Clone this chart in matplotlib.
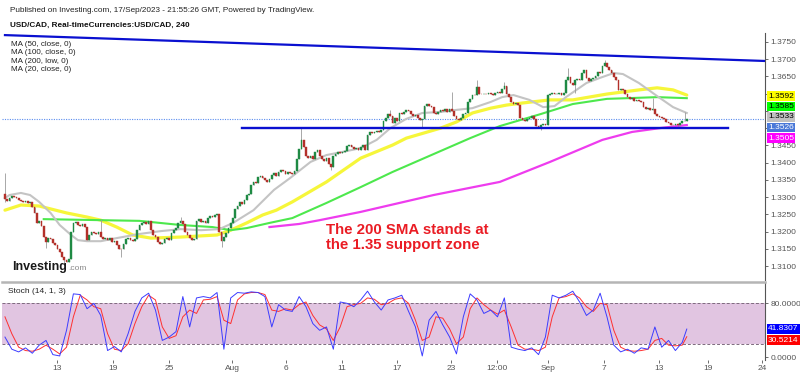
import numpy as np
import matplotlib
matplotlib.use('Agg')
import matplotlib.pyplot as plt

plt.rcParams['font.family'] = ['Liberation Sans', 'DejaVu Sans']

# USD/CAD 4h closes, one trading day per row (6 candles)
first_open = 1.3310
closes = [
    1.3295, 1.3290, 1.3298, 1.3302, 1.3300, 1.3296,
    1.3292, 1.3288, 1.3285, 1.3290, 1.3282, 1.3286,
    1.3270, 1.3255, 1.3225, 1.3230, 1.3215, 1.3185,
    1.3170, 1.3180, 1.3178, 1.3168, 1.3160, 1.3150,
    1.3140, 1.3125, 1.3118, 1.3112, 1.3120, 1.3200,
    1.3225, 1.3228, 1.3220, 1.3215, 1.3222, 1.3212,
    1.3175, 1.3190, 1.3198, 1.3195, 1.3192, 1.3200,
    1.3185, 1.3178, 1.3180, 1.3175, 1.3182, 1.3170,
    1.3172, 1.3160, 1.3150, 1.3148, 1.3165, 1.3178,
    1.3180, 1.3175, 1.3172, 1.3178, 1.3205, 1.3220,
    1.3225, 1.3228, 1.3222, 1.3230, 1.3205, 1.3190,
    1.3185, 1.3170, 1.3165, 1.3168, 1.3178, 1.3180,
    1.3175, 1.3195, 1.3205, 1.3210, 1.3225, 1.3230,
    1.3222, 1.3200, 1.3190, 1.3180, 1.3175, 1.3178,
    1.3230, 1.3235, 1.3228, 1.3232, 1.3225, 1.3240,
    1.3245, 1.3242, 1.3248, 1.3252, 1.3200, 1.3172,
    1.3185, 1.3195, 1.3210, 1.3225, 1.3240, 1.3265,
    1.3275, 1.3285, 1.3280, 1.3292, 1.3305, 1.3310,
    1.3335, 1.3345, 1.3340, 1.3358, 1.3362, 1.3355,
    1.3350, 1.3345, 1.3352, 1.3365, 1.3370, 1.3362,
    1.3372, 1.3378, 1.3375, 1.3368, 1.3372, 1.3370,
    1.3368, 1.3375, 1.3410, 1.3440, 1.3465, 1.3445,
    1.3420, 1.3412, 1.3418, 1.3410, 1.3432, 1.3438,
    1.3420, 1.3410, 1.3405, 1.3412, 1.3395, 1.3388,
    1.3418, 1.3425, 1.3430, 1.3428, 1.3432, 1.3435,
    1.3448, 1.3452, 1.3445, 1.3440, 1.3442, 1.3438,
    1.3445, 1.3450, 1.3438, 1.3480, 1.3488, 1.3485,
    1.3490, 1.3492, 1.3488, 1.3495, 1.3520, 1.3530,
    1.3540, 1.3535, 1.3515, 1.3530, 1.3522, 1.3545,
    1.3542, 1.3548, 1.3552, 1.3550, 1.3540, 1.3535,
    1.3538, 1.3530, 1.3525, 1.3528, 1.3565, 1.3570,
    1.3565, 1.3560, 1.3545, 1.3540, 1.3548, 1.3552,
    1.3550, 1.3555, 1.3548, 1.3556, 1.3550, 1.3535,
    1.3528, 1.3525, 1.3530, 1.3540, 1.3545, 1.3575,
    1.3585, 1.3597, 1.3595, 1.3620, 1.3600, 1.3598,
    1.3600, 1.3598, 1.3602, 1.3600, 1.3596, 1.3603,
    1.3605, 1.3602, 1.3615, 1.3622, 1.3600, 1.3590,
    1.3575, 1.3570, 1.3572, 1.3568, 1.3530, 1.3525,
    1.3522, 1.3528, 1.3530, 1.3535, 1.3528, 1.3505,
    1.3500, 1.3508, 1.3512, 1.3510, 1.3595, 1.3600,
    1.3603, 1.3598, 1.3600, 1.3602, 1.3597, 1.3601,
    1.3640, 1.3648, 1.3630, 1.3625, 1.3640, 1.3642,
    1.3640, 1.3660, 1.3668, 1.3645, 1.3638, 1.3642,
    1.3645, 1.3650, 1.3662, 1.3660, 1.3680, 1.3688,
    1.3678, 1.3670, 1.3660, 1.3648, 1.3640, 1.3610,
    1.3615, 1.3612, 1.3600, 1.3590, 1.3585, 1.3588,
    1.3580, 1.3582, 1.3578, 1.3575, 1.3560, 1.3555,
    1.3558, 1.3552, 1.3555, 1.3540, 1.3535, 1.3532,
    1.3530, 1.3528, 1.3518, 1.3515, 1.3510, 1.3508,
    1.3512, 1.3510, 1.3515, 1.3520, 1.3522, 1.3526,
]

# notable wicks (candle index, high, low); nan = body edge
wick_idx = [0, 18, 26, 42, 51, 77, 95, 130, 143, 169, 183, 196, 207, 219, 235, 247, 250, 263, 284, 295, 298]
wick_high = [1.3371, np.nan, np.nan, 1.3235, np.nan, 1.3243, np.nan, 1.3500, np.nan, 1.3553, np.nan,
             1.3606, 1.3640, 1.3634, np.nan, 1.3675, np.nan, 1.3698, 1.3588, np.nan, 1.3547]
wick_low = [1.3285, 1.3152, 1.3105, np.nan, 1.3126, np.nan, 1.3155, np.nan, 1.3379, np.nan, 1.3503,
            np.nan, np.nan, np.nan, 1.3494, np.nan, 1.3602, np.nan, np.nan, 1.3500, np.nan]

# moving averages (candle index, value)
ma50_idx = [0, 7, 15, 27, 36, 42, 49, 56, 64, 77, 93, 99, 106, 113, 119, 126, 141, 156, 170, 176,
            191, 198, 205, 213, 220, 227, 239, 249, 264, 278, 286, 293, 299]
ma50 = [1.3262, 1.3277, 1.3274, 1.3254, 1.3242, 1.3233, 1.3213, 1.3190, 1.3181, 1.3184, 1.3190,
        1.3204, 1.3225, 1.3248, 1.3262, 1.3286, 1.3344, 1.3413, 1.3451, 1.3471, 1.3500, 1.3518,
        1.3544, 1.3558, 1.3567, 1.3573, 1.3582, 1.3582, 1.3599, 1.3611, 1.3617, 1.3611, 1.3596]

ma100_idx = [17, 59, 77, 91, 99, 106, 116, 126, 141, 156, 170, 204, 217, 235, 249, 264, 273, 286, 299]
ma100 = [1.3236, 1.3231, 1.3219, 1.3213, 1.3204, 1.3210, 1.3225, 1.3239, 1.3283, 1.3329, 1.3373,
         1.3471, 1.3506, 1.3541, 1.3570, 1.3585, 1.3587, 1.3590, 1.3587]

ma200_idx = [116, 129, 138, 156, 173, 188, 217, 239, 262, 275, 287, 299]
ma200 = [1.3213, 1.3222, 1.3233, 1.3257, 1.3283, 1.3306, 1.3344, 1.3402, 1.3466, 1.3489, 1.3500, 1.3509]

ma20_idx = [0, 2, 7, 11, 15, 20, 24, 29, 32, 36, 42, 49, 59, 68, 77, 86, 94, 100, 109, 118, 125,
            134, 141, 148, 156, 163, 169, 176, 183, 191, 198, 205, 213, 218, 223, 230, 236, 241,
            246, 255, 261, 267, 271, 278, 286, 293, 299]
ma20 = [1.3297, 1.3306, 1.3312, 1.3306, 1.3286, 1.3254, 1.3219, 1.3190, 1.3175, 1.3172, 1.3172,
        1.3181, 1.3193, 1.3201, 1.3207, 1.3204, 1.3207, 1.3225, 1.3262, 1.3321, 1.3355, 1.3402,
        1.3422, 1.3431, 1.3442, 1.3466, 1.3500, 1.3527, 1.3544, 1.3547, 1.3553, 1.3558, 1.3576,
        1.3590, 1.3596, 1.3582, 1.3561, 1.3564, 1.3590, 1.3631, 1.3646, 1.3660, 1.3657, 1.3631,
        1.3593, 1.3561, 1.3544]

# trend line and support
trend_idx = [0, 333]
trend_val = [1.3770, 1.3695]
support_idx = [104, 317]
support_val = 1.3500
last_price = 1.3526

# stochastic (14,1,3), one point every 3 candles + last candle
stoch_k = [30, 12, 8, 14, 6, 18, 25, 4, 2, 40, 94, 93, 72, 80, 62, 10, 16, 8, 35, 68,
           88, 95, 70, 25, 30, 38, 90, 45, 88, 90, 88, 96, 12, 88, 96, 95, 97, 96, 90, 45,
           78, 70, 68, 90, 75, 50, 40, 45, 12, 82, 80, 75, 85, 98, 82, 70, 85, 88, 92, 68,
           45, 2, 55, 68, 48, 30, 5, 60, 94, 85, 65, 70, 60, 88, 15, 12, 10, 14, 4, 30,
           92, 88, 92, 98, 82, 62, 70, 95, 60, 18, 8, 12, 6, 14, 12, 45, 15, 25, 10, 22, 41.8307]
stoch_d = [60, 35, 15, 10, 9, 12, 18, 12, 5, 15, 60, 92, 85, 75, 72, 35, 12, 10, 20, 50,
           75, 92, 85, 45, 28, 32, 60, 70, 65, 85, 86, 90, 55, 50, 85, 94, 96, 96, 93, 70,
           68, 72, 70, 78, 82, 62, 48, 42, 25, 45, 75, 78, 80, 88, 86, 78, 80, 86, 88, 80,
           55, 25, 30, 60, 58, 42, 20, 30, 72, 88, 78, 70, 64, 70, 45, 18, 12, 12, 10, 15,
           60, 88, 90, 94, 88, 75, 68, 80, 78, 40, 15, 10, 9, 10, 12, 25, 28, 18, 17, 18, 30.5214]
stoch_x = list(range(0, 300, 3)) + [299]

xtick_pos = [22.8, 47.4, 71.9, 99.6, 123.2, 147.8, 171.9, 195.6, 215.8, 238.2, 262.7, 286.8, 308.3, 332.0]
xtick_lab = ['13', '19', '25', 'Aug', '6', '11', '17', '23', '12:00', 'Sep', '7', '13', '19', '24']

# price scale ticks; the ones hidden behind the value boxes are left blank
price_ticks = [1.3100, 1.3150, 1.3200, 1.3250, 1.3300, 1.3350, 1.3400, 1.3450,
               1.3500, 1.3550, 1.3600, 1.3650, 1.3700, 1.3750]
price_labels = ['1.3100', '1.3150', '1.3200', '1.3250', '1.3300', '1.3350', '1.3400', '1.3450',
                '', '', '', '1.3650', '1.3700', '1.3750']

# right axis value boxes (stacked like the price scale does)
box_text = ['1.3592', '1.3585', '1.3533', '1.3526', '1.3505']
box_face = ['#ffff00', '#00ff00', '#c0c0c0', '#4a78d8', '#ff00ff']
box_font = ['black', 'black', 'black', 'white', 'white']
box_ypx = [96, 106.5, 117, 127.5, 138]

fig = plt.figure(figsize=(8, 3.76), dpi=100)
ax = fig.add_axes([2/800, 1-280/376, 763/800, 247/376])
sx = fig.add_axes([2/800, 1-360/376, 763/800, 78/376], sharex=ax)

# candles
c = np.array(closes)
o = np.concatenate([[first_open], c[:-1]])
idx = np.arange(len(c))
hi = np.maximum(o, c)
lo = np.minimum(o, c)
for i, h, l in zip(wick_idx, wick_high, wick_low):
    if not np.isnan(h):
        hi[i] = h
    if not np.isnan(l):
        lo[i] = l
up = c >= o
ax.vlines(idx, lo, hi, color='#9a9a9a', lw=0.6, zorder=4)
ax.bar(idx[up], (c - o)[up], bottom=o[up], width=0.75, color='#1f8a44',
       edgecolor='#1f8a44', lw=0.3, zorder=5)
ax.bar(idx[~up], (c - o)[~up], bottom=o[~up], width=0.75, color='#b3302a',
       edgecolor='#b3302a', lw=0.3, zorder=5)

# moving averages
ax.plot(ma50_idx, ma50, color='#f6f63a', lw=2.3, zorder=3, solid_capstyle='round')
ax.plot(ma100_idx, ma100, color='#4de84d', lw=1.5, zorder=3)
ax.plot(ma200_idx, ma200, color='#ee3cee', lw=1.6, zorder=3)
ax.plot(ma20_idx, ma20, color='#c4c4c4', lw=1.5, zorder=3)

# drawings
ax.plot(trend_idx, trend_val, color='#0a10d0', lw=1.6, zorder=6)
ax.plot(support_idx, [support_val, support_val], color='#0a10d0', lw=1.7, zorder=6)
ax.axhline(last_price, color='#5b8def', lw=0.8, ls=(0, (1, 1.2)), zorder=2)

ax.set_xlim(-1.3, 333.3)
ax.set_ylim(1.30594, 1.37761)
ax.yaxis.tick_right()
ax.set_yticks(price_ticks)
ax.set_yticklabels(price_labels)
ax.tick_params(axis='y', labelsize=6, colors='#555555', length=2, pad=2, width=0.6)
ax.tick_params(axis='x', bottom=False, labelbottom=False)
for s in ['top', 'left', 'bottom']:
    ax.spines[s].set_visible(False)
ax.spines['right'].set_color('#555555')
ax.spines['right'].set_linewidth(0.8)

# value boxes on the price scale
for t, fc, tc, yp in zip(box_text, box_face, box_font, box_ypx):
    fig.text(768/800, 1 - yp/376, t, fontsize=6, color=tc, va='center', ha='left', zorder=10,
             bbox=dict(boxstyle='square,pad=0.15', fc=fc, ec='none'))

# annotation
ax.text(141, 1.3184, 'The 200 SMA stands at\nthe 1.35 support zone', color='#ea1c24',
        fontsize=10.8, fontweight='bold', linespacing=1.1, va='center', ha='left', zorder=8)

# stochastic panel
sx.axhspan(20, 80, color='#e1c5e1', lw=0, zorder=1)
sx.axhline(80, color='#7d6a7d', lw=0.7, ls=(0, (3, 2)), zorder=2)
sx.axhline(20, color='#7d6a7d', lw=0.7, ls=(0, (3, 2)), zorder=2)
sx.plot(stoch_x, stoch_k, color='#3c3cff', lw=0.7, zorder=4)
sx.plot(stoch_x, stoch_d, color='#ff3030', lw=0.7, zorder=3)
sx.set_ylim(-4, 111.6)
sx.yaxis.tick_right()
sx.set_yticks([0, 80])
sx.set_yticklabels(['0.0000', '80.0000'])
sx.tick_params(axis='y', labelsize=6, colors='#555555', length=2, pad=2, width=0.6)
sx.set_xticks(xtick_pos)
sx.set_xticklabels(xtick_lab)
sx.tick_params(axis='x', labelsize=6, colors='#555555', length=2, pad=1.5, width=0.6)
for s in ['left', 'bottom']:
    sx.spines[s].set_visible(False)
sx.spines['top'].set_color('#b5b5b5')
sx.spines['top'].set_linewidth(1.8)
sx.spines['right'].set_color('#555555')
sx.spines['right'].set_linewidth(0.8)
fig.text(768/800, 1 - 329/376, '41.8307', fontsize=6, color='white', va='center', ha='left',
         bbox=dict(boxstyle='square,pad=0.15', fc='#0000ff', ec='none'))
fig.text(768/800, 1 - 340/376, '30.5214', fontsize=6, color='white', va='center', ha='left',
         bbox=dict(boxstyle='square,pad=0.15', fc='#ff0000', ec='none'))
sx.text(0.008, 0.86, 'Stoch (14, 1, 3)', transform=sx.transAxes, fontsize=6, color='#222222')

# header and legend
fig.text(10/800, 1-10/376, 'Published on Investing.com, 17/Sep/2023 - 21:55:26 GMT, Powered by TradingView.',
         fontsize=5.9, color='#222222', va='center')
fig.text(10/800, 1-25/376, 'USD/CAD, Real-timeCurrencies:USD/CAD, 240',
         fontsize=5.9, fontweight='bold', color='#111111', va='center')
for k, t in enumerate(['MA (50, close, 0)', 'MA (100, close, 0)', 'MA (200, low, 0)', 'MA (20, close, 0)']):
    fig.text(11/800, 1-(44.5 + 8.3*k)/376, t, fontsize=5.8, color='#222222', va='center')

fig.text(12/800, 1-267/376, 'Investing', fontsize=9, fontweight='bold', color='#1a1a1a', va='center')
fig.text(68/800, 1-269/376, '.com', fontsize=6, color='#888888', va='center')

plt.savefig('out.png', dpi=100)
